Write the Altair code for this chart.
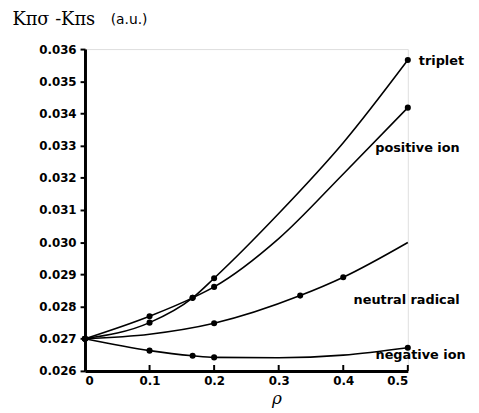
import altair as alt
import pandas as pd

# ---- data ----------------------------------------------------------------
SERIES = ["triplet", "positive ion", "neutral radical", "negative ion"]

# curve vertices (rho, K_pi_sigma - K_pi_s)
triplet_rho = [0.0, 0.1, 0.1667, 0.2, 0.3, 0.4, 0.5]
triplet_val = [0.0270, 0.02750, 0.02827, 0.02888, 0.03089, 0.03309, 0.03566]
triplet_dot = [1, 1, 1, 1, 0, 0, 1]

positive_rho = [0.0, 0.1, 0.1667, 0.2, 0.3, 0.4, 0.5]
positive_val = [0.0270, 0.02770, 0.02827, 0.02861, 0.03011, 0.03212, 0.03418]
positive_dot = [1, 1, 1, 1, 0, 0, 1]

neutral_rho = [0.0, 0.1, 0.2, 0.3333, 0.4, 0.5]
neutral_val = [0.0270, 0.02714, 0.02748, 0.02834, 0.02891, 0.02999]
neutral_dot = [1, 0, 1, 1, 1, 0]

negative_rho = [0.0, 0.1, 0.1667, 0.2, 0.3, 0.4, 0.5]
negative_val = [0.0270, 0.02663, 0.02647, 0.02642, 0.02641, 0.02649, 0.02672]
negative_dot = [1, 1, 1, 1, 0, 0, 1]

# curve labels (anchor in data units)
label_rho = [0.517, 0.4495, 0.416, 0.450]
label_val = [0.03563, 0.03293, 0.02821, 0.02649]

x_ticks = [0.0, 0.1, 0.2, 0.3, 0.4, 0.5]
y_ticks = [0.026, 0.027, 0.028, 0.029, 0.030, 0.031, 0.032, 0.033, 0.034, 0.035, 0.036]

# ---- tables ---------------------------------------------------------------
rows = []
for name, rr, vv, dd in [
    ("triplet", triplet_rho, triplet_val, triplet_dot),
    ("positive ion", positive_rho, positive_val, positive_dot),
    ("neutral radical", neutral_rho, neutral_val, neutral_dot),
    ("negative ion", negative_rho, negative_val, negative_dot),
]:
    for r, v, d in zip(rr, vv, dd):
        rows.append({"series": name, "rho": r, "value": v, "dot": d})
df = pd.DataFrame(rows)
labels = pd.DataFrame({"series": SERIES, "rho": label_rho, "value": label_val})
ticks = pd.DataFrame({"rho": x_ticks[1:]})

W, H = 327, 326
FONT = "DejaVu Sans"

x_scale = alt.Scale(domain=[0, 0.5], nice=False, zero=False)
y_scale = alt.Scale(domain=[0.026, 0.036], nice=False, zero=False)

x_axis = alt.Axis(
    values=x_ticks,
    labelExpr="datum.value == 0 ? '0' : format(datum.value, '.1f')",
    ticks=False, grid=False, domainColor="black", domainWidth=3,
    labelFont=FONT, labelFontSize=12, labelFontWeight="bold", labelColor="black",
    labelPadding=5, labelOverlap=False,
    title="ρ", titleFont="DejaVu Serif", titleFontStyle="italic", titleFontSize=17,
    titleFontWeight="normal", titleColor="black",
    titleX=194, titleY=33, titleBaseline="alphabetic", titleAlign="center",
)
y_axis = alt.Axis(
    values=y_ticks, format=".3f", tickCount=11,
    ticks=True, tickSize=5, tickWidth=2, tickColor="black", grid=False,
    domainColor="black", domainWidth=3,
    labelFont=FONT, labelFontSize=12, labelFontWeight="bold", labelColor="black",
    labelPadding=4, labelOverlap=False, labelFlush=False,
    title="Kπσ -Kπs", titleFont="DejaVu Serif", titleFontSize=18,
    titleFontWeight="normal", titleColor="black", titleAngle=0,
    titleAlign="left", titleBaseline="alphabetic", titleX=-74, titleY=-25,
)

X = alt.X("rho:Q", scale=x_scale, axis=x_axis)
Y = alt.Y("value:Q", scale=y_scale, axis=y_axis)

base = alt.Chart(df)
lines = base.mark_line(color="black", strokeWidth=1.6, interpolate="monotone").encode(
    x=X, y=Y, detail="series:N", order="rho:Q",
)
dots = base.transform_filter("datum.dot == 1").mark_circle(color="black", opacity=1, size=38).encode(
    x=X, y=Y,
)
tick_marks = alt.Chart(ticks).mark_rule(color="black", strokeWidth=2).encode(
    x=X, y=alt.value(H), y2=alt.value(H - 6),
)
text = alt.Chart(labels).mark_text(
    align="left", baseline="middle", font=FONT, fontSize=13, fontWeight="bold", color="black"
).encode(x=X, y=Y, text="series:N")
unit = alt.Chart(pd.DataFrame({"t": ["(a.u.)"]})).mark_text(
    align="left", baseline="alphabetic", font=FONT, fontSize=14, fontWeight="normal", color="black"
).encode(x=alt.value(26), y=alt.value(-25), text="t:N")

chart = alt.layer(lines, dots, tick_marks, text, unit).properties(
    width=W, height=H,
    autosize=alt.AutoSizeParams(type="none"),
    padding={"left": 78, "top": 39, "right": 64, "bottom": 38},
).configure_view(stroke=None).configure(background="white")

chart.save("out.html", embed_options={"renderer": "svg", "actions": False})
